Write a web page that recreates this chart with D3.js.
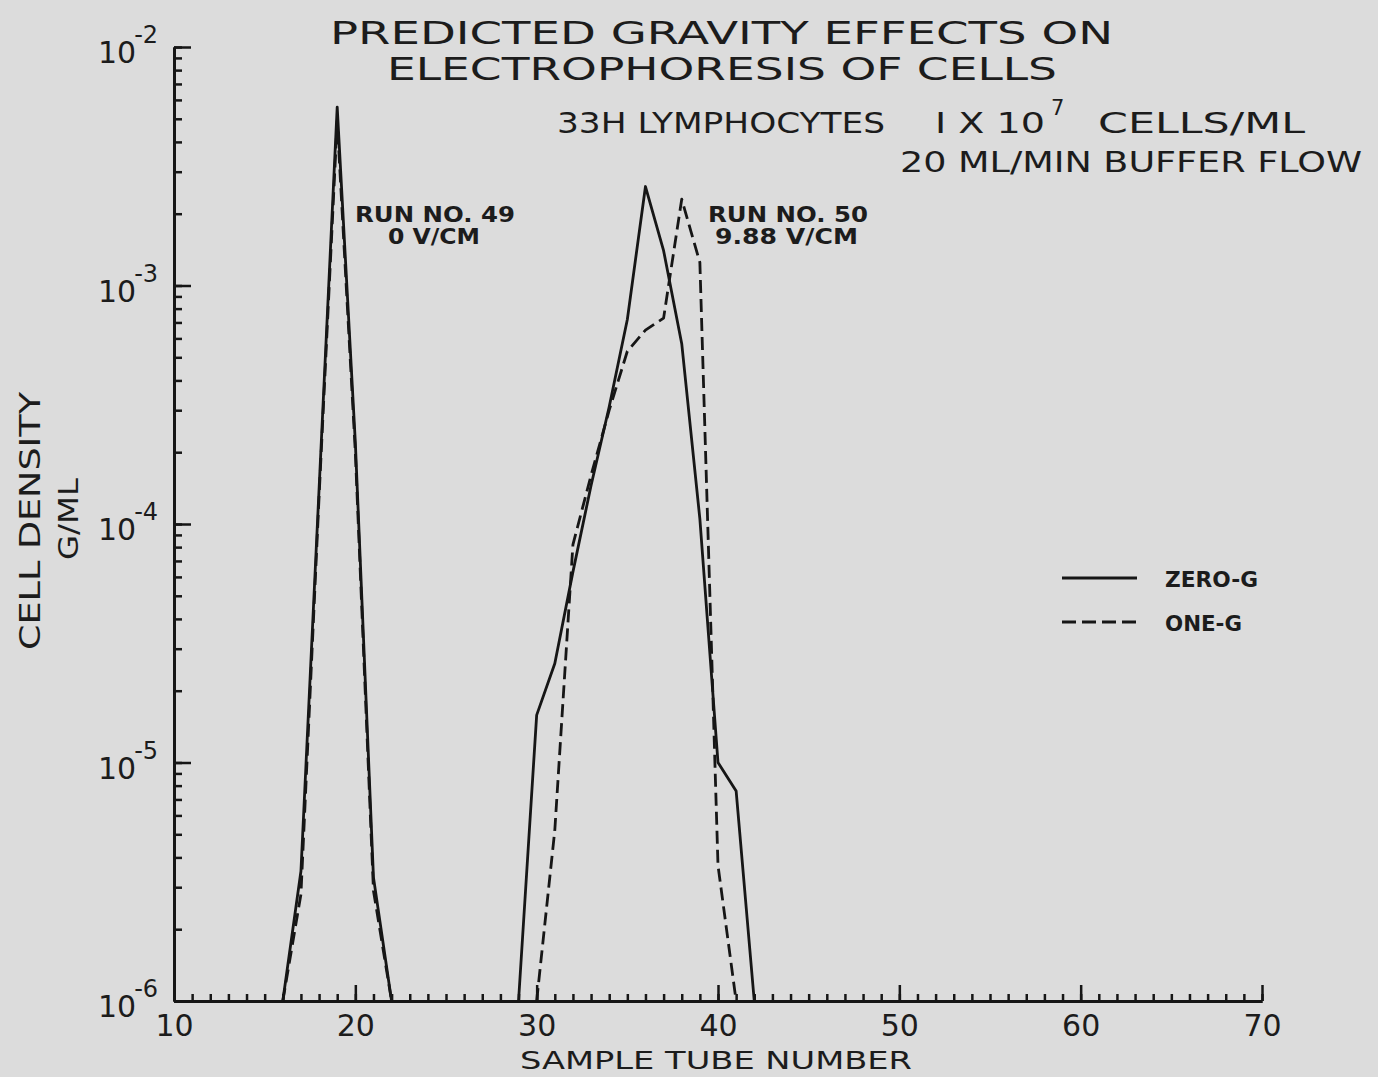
<!DOCTYPE html>
<html>
<head>
<meta charset="utf-8">
<script src="https://cdn.jsdelivr.net/npm/d3@7"></script>
<style>
	body { margin: 0; background: #dcdcdc; }
	svg { display: block; }
	text { font-family: "DejaVu Sans", sans-serif; fill: #1c1c1c; }
</style>
</head>
<body>
<svg id="GravityChart"></svg>
<script>
// tick labels
const tubeTickLabels = [10, 20, 30, 40, 50, 60, 70];
const densityExponents = [-2, -3, -4, -5, -6];

// run 49, 0 V/CM
const run49Tubes = [16, 17, 18, 19, 20, 21, 22];
const run49ZeroG = [1e-6, 3.5e-6, 1.4e-4, 5.6e-3, 2.2e-4, 3.3e-6, 1e-6];
const run49OneG  = [1e-6, 2.8e-6, 1.3e-4, 4.9e-3, 2.0e-4, 2.9e-6, 1e-6];

// run 50, 9.88 V/CM
const run50ZeroGTubes = [29, 30, 31, 32, 33, 34, 35, 36, 37, 38, 39, 40, 41, 42];
const run50ZeroG = [1e-6, 1.58e-5, 2.6e-5, 6.3e-5, 1.45e-4, 3.1e-4, 7.2e-4, 2.6e-3, 1.4e-3, 5.7e-4, 1.05e-4, 1.0e-5, 7.6e-6, 1e-6];
const run50OneGTubes = [30, 31, 32, 33, 34, 35, 36, 37, 38, 39, 40, 41];
const run50OneG  = [1e-6, 5.2e-6, 8.2e-5, 1.6e-4, 3.0e-4, 5.3e-4, 6.5e-4, 7.3e-4, 2.3e-3, 1.25e-3, 3.7e-6, 1e-6];

const seriesNames = ["ZERO-G", "ONE-G"];

class GravityChart {

	constructor() {
		this.svgWidth = 1378;
		this.svgHeight = 1077;
		this.ink = "#161616";
		this.x = d3.scaleLinear().domain([10, 70]).range([174, 1262]);
		this.y = d3.scaleLog().domain([1e-6, 1e-2]).range([1001, 47]);
		this.dash = {"ZERO-G": null, "ONE-G": "13,6"};
	}

	draw() {
		var x = this.x, y = this.y, ink = this.ink;
		var svg = d3.select('#GravityChart')
			.attr('width', this.svgWidth)
			.attr('height', this.svgHeight);

		svg.append("rect")
			.attr("width", this.svgWidth)
			.attr("height", this.svgHeight)
			.attr("fill", "#dcdcdc");

		// x axis: minor ticks every tube, long ticks every ten
		svg.append("g")
			.attr("transform", "translate(0," + y(1e-6) + ")")
			.call(d3.axisBottom(x).tickValues(d3.range(10, 71)).tickSize(-7).tickSizeOuter(0).tickFormat(""));
		var xMajor = svg.append("g")
			.attr("transform", "translate(0," + y(1e-6) + ")")
			.call(d3.axisBottom(x).tickValues(tubeTickLabels).tickSize(-16).tickSizeOuter(0)
				.tickPadding(14).tickFormat(d3.format("d")));
		xMajor.selectAll("text")
			.attr("font-size", 30)
			.attr("font-family", "DejaVu Sans, sans-serif")
			.attr("fill", ink);

		// y axis: log minor ticks to the right
		svg.append("g")
			.attr("transform", "translate(" + x(10) + ",0)")
			.call(d3.axisLeft(y).tickValues(y.ticks()).tickSize(-8).tickSizeOuter(0).tickFormat(""));
		svg.append("g")
			.attr("transform", "translate(" + x(10) + ",0)")
			.call(d3.axisLeft(y).tickValues(densityExponents.map(e => Math.pow(10, e))).tickSize(-17).tickSizeOuter(0).tickFormat(""));

		svg.selectAll(".domain").attr("stroke", ink).attr("stroke-width", 3);
		svg.selectAll(".tick line").attr("stroke", ink).attr("stroke-width", 2.5);

		var yLabels = svg.append("g").selectAll("text")
			.data(densityExponents)
			.enter().append("text")
			.attr("x", 98)
			.attr("y", d => y(Math.pow(10, d)) + 16)
			.attr("font-size", 30);
		yLabels.append("tspan").text("10");
		yLabels.append("tspan")
			.attr("dy", -20)
			.attr("dx", -2)
			.attr("font-size", 24)
			.text(d => "-" + (-d));

		// curves
		var line = d3.line()
			.x(d => x(d.tube))
			.y(d => y(d.value));

		var curves = [
			{key: "ZERO-G", tubes: run49Tubes, values: run49ZeroG},
			{key: "ONE-G", tubes: run49Tubes, values: run49OneG},
			{key: "ZERO-G", tubes: run50ZeroGTubes, values: run50ZeroG},
			{key: "ONE-G", tubes: run50OneGTubes, values: run50OneG}
		];
		var dash = this.dash;

		svg.append("g").selectAll("path")
			.data(curves)
			.enter().append("path")
			.attr("fill", "none")
			.attr("stroke", ink)
			.attr("stroke-width", 2.8)
			.attr("stroke-linejoin", "round")
			.attr("stroke-dasharray", d => dash[d.key])
			.attr("d", d => line(d.tubes.map((t, i) => ({tube: t, value: d.values[i]}))));

		// titles
		var texts = [
			["PREDICTED GRAVITY EFFECTS ON", 330, 44, 32, 783],
			["ELECTROPHORESIS OF CELLS", 387, 80, 32, 670],
			["33H LYMPHOCYTES", 557, 133, 29, 328],
			["I X 10", 935, 133, 29, 110],
			["CELLS/ML", 1098, 133, 29, 207],
			["20 ML/MIN BUFFER FLOW", 900, 172, 29, 462],
			["SAMPLE TUBE NUMBER", 520, 1069, 25, 392],
			["RUN NO. 49", 355, 222, 21, 160],
			["0 V/CM", 388, 244, 21, 92],
			["RUN NO. 50", 708, 222, 21, 160],
			["9.88 V/CM", 715, 244, 21, 143]
		];
		svg.append("g").selectAll("text")
			.data(texts)
			.enter().append("text")
			.attr("x", d => d[1])
			.attr("y", d => d[2])
			.attr("font-size", d => d[3])
			.attr("font-weight", d => d[3] < 25 && d[0].indexOf("SAMPLE") < 0 ? "bold" : "normal")
			.attr("textLength", d => d[4])
			.attr("lengthAdjust", "spacingAndGlyphs")
			.text(d => d[0]);

		svg.append("text")
			.attr("x", 1051)
			.attr("y", 115)
			.attr("font-size", 21)
			.text("7");

		svg.append("text")
			.attr("transform", "translate(40,521) rotate(-90)")
			.attr("text-anchor", "middle")
			.attr("font-size", 29)
			.attr("textLength", 258)
			.attr("lengthAdjust", "spacingAndGlyphs")
			.text("CELL DENSITY");
		svg.append("text")
			.attr("transform", "translate(78,519) rotate(-90)")
			.attr("text-anchor", "middle")
			.attr("font-size", 26)
			.attr("textLength", 82)
			.attr("lengthAdjust", "spacingAndGlyphs")
			.text("G/ML");

		// legend
		var legend = svg.append("g")
			.selectAll("g")
			.data(seriesNames)
			.enter().append("g")
			.attr("transform", (d, i) => "translate(0," + (578 + i * 44) + ")");
		legend.append("line")
			.attr("x1", 1062).attr("x2", 1137)
			.attr("stroke", ink)
			.attr("stroke-width", 3)
			.attr("stroke-dasharray", d => d === "ONE-G" ? "14,6" : null);
		legend.append("text")
			.attr("x", 1165)
			.attr("y", 9)
			.attr("font-size", 22)
			.attr("font-weight", "bold")
			.attr("textLength", (d, i) => i === 0 ? 93 : 77)
			.attr("lengthAdjust", "spacingAndGlyphs")
			.text(d => d);
	}
}

var chart = new GravityChart();
chart.draw();
</script>
</body>
</html>
